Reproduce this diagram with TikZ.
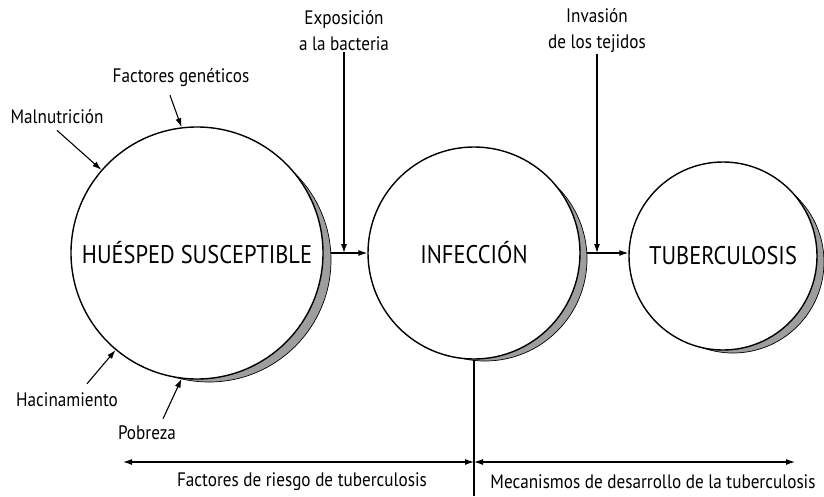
\documentclass[tikz,border=0pt]{standalone}
\usepackage{fontspec}
\setmainfont{PT Sans}[FakeStretch=0.88]
\usetikzlibrary{arrows.meta}
\usetikzlibrary{backgrounds}

\begin{document}
\begin{tikzpicture}[x=1pt,y=-1pt,
    stage/.style={circle,draw,fill=white,line width=1.4pt,inner sep=0pt,font=\fontsize{25.5}{28}\selectfont},
    crescent/.style={circle,draw,line width=0.7pt,fill=black!38,inner sep=0pt},
    lbl/.style={align=center,inner sep=1pt,font=\fontsize{19.5}{26}\selectfont},
    arr/.style={-{Latex[length=9pt,width=6pt]},line width=1.1pt},
    spanline/.style={{Latex[length=9pt,width=6pt]}-{Latex[length=9pt,width=6pt]},line width=1.1pt}]
    \useasboundingbox (0,0) rectangle (824,496);

    %Shape: Circle (shadows)
    \node[crescent,minimum size=244pt] (hostsh) at (209,260) {};
    \node[crescent,minimum size=204pt] (infecsh) at (485,259) {};
    \node[crescent,minimum size=182pt] (tbsh) at (733,262) {};

    %Shape: Circle
    \node[stage,minimum size=252pt] (host) at (197,253) {HUÉSPED SUSCEPTIBLE};
    \node[stage,minimum size=212pt] (infec) at (474,253) {INFECCIÓN};
    \node[stage,minimum size=188pt] (tb) at (723,256) {TUBERCULOSIS};

    % Text Node
    \node[lbl] (gen) at (181,78) {Factores genéticos};
    % Text Node
    \node[lbl] (maln) at (57,117) {Malnutrición};
    % Text Node
    \node[lbl] (haci) at (67,400) {Hacinamiento};
    % Text Node
    \node[lbl] (pobr) at (147,433) {Pobreza};
    % Text Node
    \node[lbl] (expo) at (344,31) {Exposición\\a la bacteria};
    % Text Node
    \node[lbl] (inva) at (597,31) {Invasión\\de los tejidos};
    % Text Node
    \node[lbl] (risk) at (302,482) {Factores de riesgo de tuberculosis};
    % Text Node
    \node[lbl] (mech) at (653,482) {Mecanismos de desarrollo de la tuberculosis};

    \coordinate (split) at (474,496);
    \coordinate (riskL) at (123,462);
    \coordinate (mid) at (474,462);
    \coordinate (devR) at (795,462);

    %Straight Lines
    \begin{scope}[on background layer]
      \draw[arr] (host.east) -- (infec.west);
      \draw[arr] (infec.east) -- (infec.east -| tb.west);
      \draw[line width=1.1pt] (infec.south) -- (split);
    \end{scope}

    %Straight Lines
    \draw[arr] (expo.south) -- (expo.south |- host.east);
    \draw[arr] (inva.south) -- (inva.south |- infec.east);

    %Straight Lines
    \draw[arr] ([xshift=-11pt,yshift=-7pt]gen.south) -- (host.97);
    \draw[arr] ([yshift=-5pt]maln.south) -- (host.139);
    \draw[arr] ([xshift=20pt,yshift=8pt]haci.north) -- (host.230);
    \draw[arr] ([xshift=16pt,yshift=6pt]pobr.north) -- (host.263);

    %Straight Lines
    \draw[spanline] (riskL) -- (mid);
    \draw[spanline] (mid) -- (devR);

\end{tikzpicture}
\end{document}
